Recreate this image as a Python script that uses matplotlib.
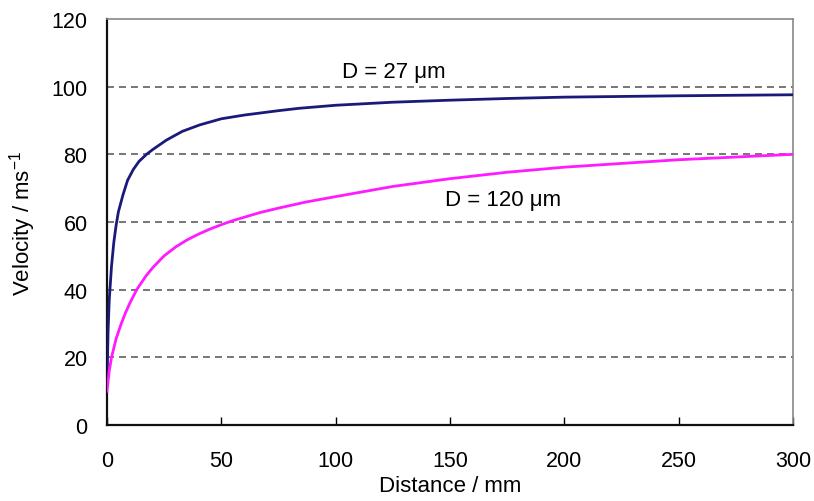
import matplotlib
matplotlib.use("Agg")
import matplotlib.pyplot as plt

plt.rcParams['font.family'] = ['Liberation Sans', 'DejaVu Sans']

dist_27 = [0, 0.5, 1, 2, 3, 4, 5, 7, 9, 11.5, 14, 17.3, 20, 26, 33, 40.6, 50, 60,
           75, 84, 100, 125, 150, 175, 200, 250, 300]
vel_27 = [12, 28, 37, 47, 54, 59, 63, 68, 72.3, 75.5, 77.9, 80, 81.4, 84.2, 86.8,
          88.7, 90.5, 91.6, 92.9, 93.6, 94.5, 95.4, 96, 96.5, 96.9, 97.3, 97.6]

dist_120 = [0, 1, 2, 4, 6, 8, 10, 13, 17, 20, 25, 30, 35, 40, 45, 50, 55, 60, 67,
            75, 87, 100, 125, 150, 175, 200, 250, 300]
vel_120 = [10, 16, 20, 25.5, 29.5, 33, 36, 40, 44, 46.5, 50, 52.6, 54.7, 56.4,
           57.9, 59.2, 60.4, 61.4, 62.8, 64.1, 65.9, 67.5, 70.5, 72.8, 74.7, 76.2,
           78.4, 80]

x_ticks = [0, 50, 100, 150, 200, 250, 300]
y_ticks = [0, 20, 40, 60, 80, 100, 120]

fig = plt.figure(figsize=(8.14, 5.02), dpi=100)
ax = fig.add_axes([0.1314, 0.1514, 0.9742 - 0.1314, 0.9602 - 0.1514])

for yv in y_ticks[1:-1]:
    ax.axhline(yv, color='#606060', lw=1.2, ls=(0, (4.2, 3)), zorder=1)

ax.plot(dist_27, vel_27, color='#1a1a7a', lw=2, zorder=3)
ax.plot(dist_120, vel_120, color='#ff1aff', lw=2, zorder=3)

ax.set_xlim(0, 300)
ax.set_ylim(0, 120)
ax.set_xticks(x_ticks)
ax.set_yticks(y_ticks)
ax.tick_params(axis='x', direction='in', length=6, width=1, labelsize=15.5, pad=18)
ax.tick_params(axis='y', direction='in', length=0, labelsize=15.5, pad=14)

for s in ['left', 'bottom']:
    ax.spines[s].set_color('#111111')
    ax.spines[s].set_linewidth(1.6)
for s in ['top', 'right']:
    ax.spines[s].set_color('#888888')
    ax.spines[s].set_linewidth(1.2)

ax.set_xlabel('Distance / mm', fontsize=16, labelpad=3)
ax.set_ylabel(r'Velocity / ms$^{\mathregular{-1}}$', fontsize=16, labelpad=10)

ax.text(125.5, 104.6, 'D = 27 μm', fontsize=16, ha='center', va='center')
ax.text(173, 66.5, 'D = 120 μm', fontsize=16, ha='center', va='center')

fig.savefig('out.png', dpi=100)
